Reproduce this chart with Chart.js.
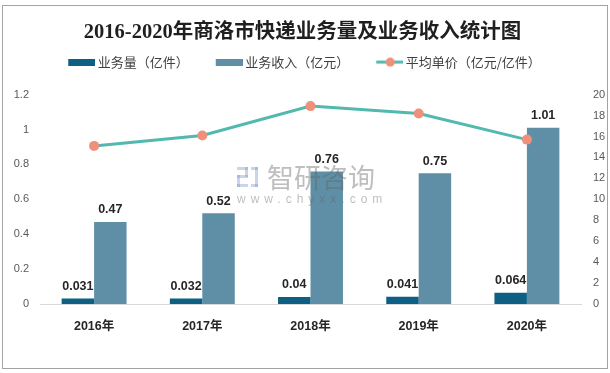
<!DOCTYPE html>
<html>
<head>
<meta charset="utf-8">
<script src="https://cdn.jsdelivr.net/npm/chart.js@4/dist/chart.umd.min.js"></script>
<style>
html,body{margin:0;padding:0;background:#ffffff;}
#wrap{position:relative;width:610px;height:373px;}
</style>
</head>
<body>
<div id="wrap"><canvas id="c" width="610" height="373"></canvas></div>
<script>
const titleText = '2016-2020年商洛市快递业务量及业务收入统计图';
const categories = ['2016年', '2017年', '2018年', '2019年', '2020年'];
const seriesNames = ['业务量（亿件）', '业务收入（亿元）', '平均单价（亿元/亿件）'];
const volume = [0.031, 0.032, 0.04, 0.041, 0.064];
const revenue = [0.47, 0.52, 0.76, 0.75, 1.01];
const unitPrice = [15.1, 16.1, 18.9, 18.2, 15.7];
const leftTickLabels = ['0', '0.2', '0.4', '0.6', '0.8', '1', '1.2'];
const rightTickLabels = ['0', '2', '4', '6', '8', '10', '12', '14', '16', '18', '20'];
const watermarkName = '智研咨询';
const watermarkUrl = 'www.chyxx.com';

const COL_VOL = '#0d6083';
const COL_REV = '#5e8fa7';
const COL_LINE = '#52b9ae';
const COL_PT = '#f0907a';

function swatchImg(color) {
  const c = document.createElement('canvas');
  c.width = 35; c.height = 7;
  const g = c.getContext('2d');
  g.fillStyle = color;
  g.fillRect(8, 0, 27, 7);
  return c;
}
function lineImg() {
  const c = document.createElement('canvas');
  c.width = 35; c.height = 10;
  const g = c.getContext('2d');
  g.strokeStyle = COL_LINE; g.lineWidth = 3;
  g.beginPath(); g.moveTo(8, 5); g.lineTo(35, 5); g.stroke();
  g.fillStyle = COL_PT;
  g.beginPath(); g.arc(22, 5, 4.5, 0, Math.PI * 2); g.fill();
  return c;
}
const legendImgs = [swatchImg(COL_VOL), swatchImg(COL_REV), lineImg()];

const framePlugin = {
  id: 'frame',
  afterDraw(chart) {
    const ctx = chart.ctx;
    ctx.save();
    ctx.strokeStyle = '#a3a3a3';
    ctx.lineWidth = 1;
    ctx.strokeRect(2.5, 5.5, 605, 363);
    ctx.restore();
  }
};

const labelPlugin = {
  id: 'barLabels',
  afterDatasetsDraw(chart) {
    const ctx = chart.ctx;
    ctx.save();
    ctx.font = 'bold 12.5px "Liberation Sans", Arial, sans-serif';
    ctx.fillStyle = '#262626';
    ctx.textAlign = 'center';
    ctx.textBaseline = 'middle';
    [0, 1].forEach(di => {
      const meta = chart.getDatasetMeta(di);
      const ds = chart.data.datasets[di];
      meta.data.forEach((el, i) => {
        ctx.fillText(String(ds.data[i]), el.x, el.y - 12);
      });
    });
    ctx.restore();
  }
};

const watermarkPlugin = {
  id: 'watermark',
  afterDatasetsDraw(chart) {
    const ctx = chart.ctx;
    ctx.save();
    ctx.fillStyle = 'rgba(110,145,200,0.38)';
    ctx.fillRect(237, 167, 11, 3);
    ctx.fillRect(245, 167, 3, 10);
    ctx.fillRect(237, 175, 11, 3);
    ctx.fillRect(237, 175, 3, 12);
    ctx.fillRect(237, 184, 11, 3);
    ctx.fillRect(251, 167, 7, 3);
    ctx.fillRect(255, 167, 3, 20);
    ctx.fillRect(251, 184, 7, 3);
    ctx.fillStyle = 'rgba(100,100,100,0.42)';
    ctx.font = '27px "Noto Sans CJK SC", sans-serif';
    ctx.textAlign = 'left';
    ctx.textBaseline = 'middle';
    ctx.fillText(watermarkName, 267, 178);
    ctx.font = '12px "Liberation Sans", sans-serif';
    try { ctx.letterSpacing = '5px'; } catch (e) {}
    ctx.fillText(watermarkUrl, 237, 200);
    ctx.restore();
  }
};

const chart = new Chart(document.getElementById('c'), {
  data: {
    labels: categories,
    datasets: [
      {
        type: 'bar', label: seriesNames[0], data: volume, yAxisID: 'y',
        backgroundColor: COL_VOL, borderWidth: 0,
        categoryPercentage: 0.6, barPercentage: 1.0, order: 1
      },
      {
        type: 'bar', label: seriesNames[1], data: revenue, yAxisID: 'y',
        backgroundColor: COL_REV, borderWidth: 0,
        categoryPercentage: 0.6, barPercentage: 1.0, order: 1
      },
      {
        type: 'line', label: seriesNames[2], data: unitPrice, yAxisID: 'y1',
        borderColor: COL_LINE, borderWidth: 3, tension: 0,
        pointRadius: 5, pointBackgroundColor: COL_PT, pointBorderColor: COL_PT,
        pointBorderWidth: 0, fill: false, order: 0
      }
    ]
  },
  options: {
    responsive: false,
    animation: false,
    events: [],
    layout: { padding: { top: 0, left: 0, right: 5, bottom: 24 } },
    plugins: {
      tooltip: { enabled: false },
      title: {
        display: true,
        text: titleText,
        color: '#1f1f1f',
        font: { family: '"Liberation Serif", "Noto Sans CJK SC", serif', size: 20.5, weight: 'bold' },
        padding: { top: 20, bottom: -12 }
      },
      subtitle: {
        display: true,
        text: '',
        weight: 500,
        font: { size: 10 },
        padding: { top: 4, bottom: 0 }
      },
      legend: {
        display: true,
        position: 'top',
        labels: {
          usePointStyle: true,
          pointStyleWidth: 27,
          padding: 23,
          color: '#404040',
          font: { family: '"Noto Sans CJK SC", sans-serif', size: 13 },
          generateLabels: (ch) => ch.data.datasets.map((ds, i) => ({
            text: ds.label,
            fillStyle: 'transparent',
            strokeStyle: 'transparent',
            lineWidth: 0,
            pointStyle: legendImgs[i],
            datasetIndex: i,
            hidden: false,
            fontColor: '#404040'
          }))
        }
      }
    },
    scales: {
      x: {
        grid: { display: false, drawTicks: false },
        border: { display: true, color: '#d9d9d9', width: 1 },
        ticks: {
          padding: 15,
          color: '#262626',
          font: { family: '"Liberation Sans", "Noto Sans CJK SC", sans-serif', size: 12.5, weight: 'bold' }
        }
      },
      y: {
        position: 'left',
        min: 0, max: 1.2,
        grid: { display: false, drawTicks: false },
        border: { display: false },
        ticks: {
          stepSize: 0.2,
          padding: 11,
          color: '#595959',
          font: { family: '"Liberation Sans", sans-serif', size: 11 },
          callback: (v, i) => leftTickLabels[i]
        },
        afterFit: (s) => { s.width = 40; }
      },
      y1: {
        position: 'right',
        min: 0, max: 20,
        grid: { display: false, drawTicks: false },
        border: { display: false },
        ticks: {
          stepSize: 2,
          padding: 12,
          color: '#595959',
          font: { family: '"Liberation Sans", sans-serif', size: 11 },
          callback: (v, i) => rightTickLabels[i]
        },
        afterFit: (s) => { s.width = 24; }
      }
    }
  },
  plugins: [labelPlugin, watermarkPlugin, framePlugin]
});
</script>
</body>
</html>
